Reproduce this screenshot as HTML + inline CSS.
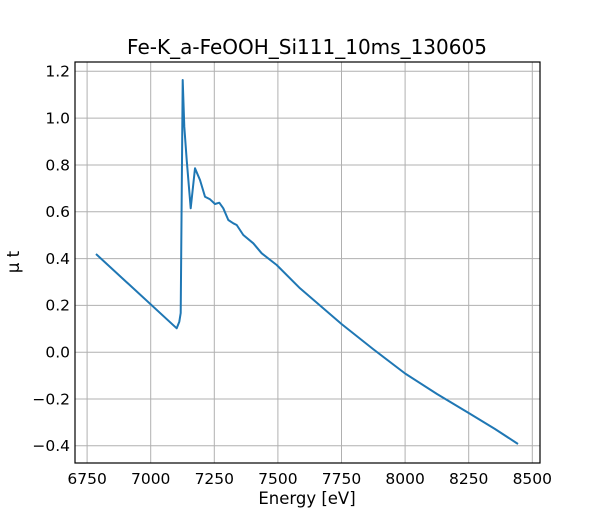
<!DOCTYPE html>
<html><head><meta charset="utf-8"><style>body{margin:0;background:#fff}svg{display:block}text{font-family:"DejaVu Sans","Liberation Sans",sans-serif;fill:#000}</style></head><body>
<svg width="600" height="520" viewBox="0 0 600 520">
<g stroke="#b0b0b0" stroke-width="1">
<line x1="87.1" y1="62" x2="87.1" y2="463"/><line x1="150.7" y1="62" x2="150.7" y2="463"/><line x1="214.3" y1="62" x2="214.3" y2="463"/><line x1="277.9" y1="62" x2="277.9" y2="463"/><line x1="341.5" y1="62" x2="341.5" y2="463"/><line x1="405.1" y1="62" x2="405.1" y2="463"/><line x1="468.7" y1="62" x2="468.7" y2="463"/><line x1="532.3" y1="62" x2="532.3" y2="463"/>
<line x1="75" y1="71.2" x2="540" y2="71.2"/><line x1="75" y1="118.1" x2="540" y2="118.1"/><line x1="75" y1="165" x2="540" y2="165"/><line x1="75" y1="211.8" x2="540" y2="211.8"/><line x1="75" y1="258.6" x2="540" y2="258.6"/><line x1="75" y1="305.4" x2="540" y2="305.4"/><line x1="75" y1="352.2" x2="540" y2="352.2"/><line x1="75" y1="399" x2="540" y2="399"/><line x1="75" y1="445.8" x2="540" y2="445.8"/>
</g>
<polyline fill="none" stroke="#1f77b4" stroke-width="2" stroke-linejoin="round" points="96,254 176.7,328.3 179.3,321.7 180.7,313 182.7,80 184.3,126.7 186.7,160 190.7,208.3 195,168.3 200,180 205,196.7 210,199.3 215,204 219.3,202.7 223.3,208.3 228.3,220 233.3,223.3 236.7,225 243.3,235 253.3,243.3 261.7,253.3 276.7,265 300,288.3 341.5,324 373,349 405.1,373.5 437,394 468.7,413 495,429 518,444"/>
<rect x="75" y="62" width="465" height="401" fill="none" stroke="#000" stroke-width="1.2"/>
<g font-size="15.5" text-anchor="middle">
<text x="87.1" y="484">6750</text><text x="150.7" y="484">7000</text><text x="214.3" y="484">7250</text><text x="277.9" y="484">7500</text><text x="341.5" y="484">7750</text><text x="405.1" y="484">8000</text><text x="468.7" y="484">8250</text><text x="532.3" y="484">8500</text>
</g>
<g font-size="15.5" text-anchor="end">
<text x="70" y="76.5">1.2</text><text x="70" y="123.4">1.0</text><text x="70" y="170.3">0.8</text><text x="70" y="217.1">0.6</text><text x="70" y="263.9">0.4</text><text x="70" y="310.7">0.2</text><text x="70" y="357.5">0.0</text><text x="70" y="404.3">−0.2</text><text x="70" y="451.1">−0.4</text>
</g>
<text x="307" y="504" font-size="16.5" text-anchor="middle">Energy [eV]</text>
<text transform="translate(19,262) rotate(-90)" font-size="16.5" text-anchor="middle">μ t</text>
<text x="307" y="54" font-size="20" text-anchor="middle">Fe-K_a-FeOOH_Si111_10ms_130605</text>
</svg>
</body></html>
